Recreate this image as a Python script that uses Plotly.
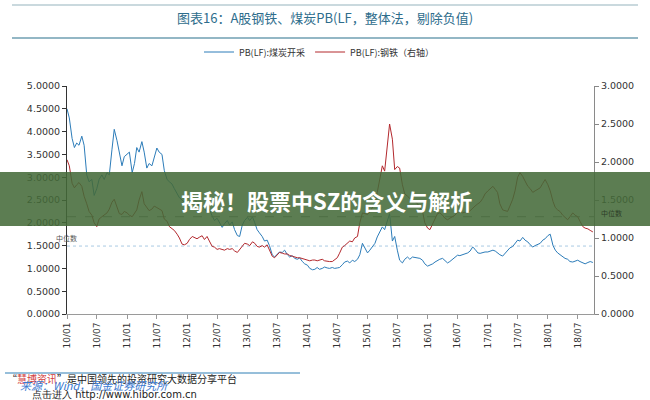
import plotly.graph_objects as go

# ---------------- data (semi-monthly readings, 2010-01-01 .. 2018-10-01) ----------------
coal_2010 = [4.50,4.30,3.85,3.65,3.75,3.70,3.90,3.70,3.05,2.90,2.95,2.60,2.75,2.95,3.05,2.95,3.10,3.05,3.60,4.05,3.80,3.55,3.25,3.45]
coal_2011 = [3.50,3.55,3.10,3.30,3.65,3.55,3.78,3.55,3.20,3.30,3.25,3.45,3.64,3.55,3.50,3.15,2.95,2.90,2.85,2.75,2.65,2.55,2.50,2.45]
coal_2012 = [2.40,2.35,2.45,2.50,2.45,2.35,2.40,2.30,2.25,2.30,2.15,2.05,2.10,2.00,1.90,1.98,2.05,1.95,2.02,1.85,1.72,1.70,1.95,2.05]
coal_2013 = [2.12,2.05,2.13,2.00,1.85,1.78,1.70,1.60,1.62,1.50,1.30,1.25,1.30,1.36,1.35,1.40,1.30,1.25,1.28,1.22,1.20,1.23,1.15,1.10]
coal_2014 = [1.07,1.00,0.97,0.98,1.02,0.98,1.00,1.03,1.01,1.00,1.02,1.00,1.01,1.02,1.08,1.14,1.16,1.12,1.18,1.15,1.20,1.30,1.55,1.45]
coal_2015 = [1.34,1.40,1.47,1.55,1.69,1.80,1.91,1.85,2.05,2.20,1.60,1.70,1.40,1.18,1.12,1.20,1.25,1.20,1.25,1.24,1.23,1.22,1.18,1.10]
coal_2016 = [1.05,1.07,1.10,1.14,1.18,1.20,1.22,1.18,1.12,1.15,1.20,1.25,1.29,1.28,1.30,1.33,1.34,1.38,1.47,1.42,1.34,1.33,1.35,1.36]
coal_2017 = [1.36,1.38,1.40,1.38,1.33,1.30,1.27,1.32,1.40,1.45,1.48,1.55,1.62,1.60,1.68,1.62,1.58,1.52,1.47,1.50,1.52,1.55,1.62,1.65]
coal_2018 = [1.72,1.75,1.50,1.40,1.34,1.30,1.25,1.22,1.20,1.15,1.14,1.16,1.18,1.15,1.12,1.10,1.13,1.15,1.13]

steel_2010 = [2.03,1.95,1.72,1.66,1.70,1.73,1.68,1.55,1.45,1.35,1.30,1.20,1.15,1.25,1.28,1.30,1.33,1.38,1.47,1.51,1.40,1.32,1.31,1.35]
steel_2011 = [1.33,1.30,1.28,1.32,1.37,1.50,1.61,1.45,1.40,1.36,1.38,1.42,1.40,1.38,1.36,1.25,1.22,1.15,1.12,1.10,1.05,1.00,0.92,0.91]
steel_2012 = [0.93,0.98,1.02,1.00,0.99,1.01,1.03,0.98,1.02,0.96,0.89,0.88,0.85,0.86,0.85,0.84,0.86,0.85,0.86,0.83,0.81,0.85,0.89,0.93]
steel_2013 = [0.92,0.90,0.95,0.93,0.89,0.88,0.90,0.88,0.91,0.85,0.76,0.74,0.78,0.81,0.80,0.79,0.79,0.77,0.76,0.75,0.74,0.74,0.73,0.72]
steel_2014 = [0.71,0.70,0.71,0.71,0.70,0.71,0.72,0.70,0.69,0.69,0.69,0.71,0.74,0.80,0.88,0.90,0.93,0.96,0.95,1.00,1.02,1.20,1.33,1.32]
steel_2015 = [1.31,1.35,1.40,1.45,1.60,1.75,1.95,1.88,2.20,2.50,2.30,1.90,1.94,1.92,1.70,1.58,1.55,1.52,1.51,1.48,1.45,1.40,1.35,1.20]
steel_2016 = [1.13,1.11,1.18,1.25,1.32,1.33,1.30,1.26,1.24,1.26,1.28,1.30,1.34,1.35,1.33,1.34,1.33,1.36,1.40,1.42,1.45,1.47,1.52,1.58]
steel_2017 = [1.62,1.65,1.68,1.64,1.60,1.45,1.37,1.36,1.35,1.42,1.51,1.62,1.80,1.86,1.81,1.75,1.68,1.65,1.60,1.62,1.64,1.66,1.72,1.77]
steel_2018 = [1.70,1.62,1.48,1.40,1.37,1.35,1.30,1.27,1.24,1.28,1.33,1.30,1.28,1.22,1.15,1.13,1.12,1.10,1.08]

coal_median = 1.49    # left axis
steel_median = 1.28   # right axis

tick_labels = ["10/01","10/07","11/01","11/07","12/01","12/07","13/01","13/07","14/01",
               "14/07","15/01","15/07","16/01","16/07","17/01","17/07","18/01","18/07"]
tick_dates = ["20%s-%s-01" % (t[:2], t[3:]) for t in tick_labels]

dates = []
for yr in range(2010, 2019):
    for mo in range(1, 13):
        for d in (1, 15):
            dates.append("%d-%02d-%02d" % (yr, mo, d))
dates = dates[:dates.index("2018-10-01") + 1]

coal = coal_2010 + coal_2011 + coal_2012 + coal_2013 + coal_2014 + coal_2015 + coal_2016 + coal_2017 + coal_2018
steel = steel_2010 + steel_2011 + steel_2012 + steel_2013 + steel_2014 + steel_2015 + steel_2016 + steel_2017 + steel_2018

x_start, x_end = "2010-01-01", "2018-10-08"

# ---------------- figure ----------------
W, H = 650, 400
L, R, T, B = 67, 594, 86, 314     # plot-area pixel box
def px(X): return (X - L) / (R - L)
def py(Y): return (B - Y) / (B - T)

BLUE = "#2c7cb9"
RED = "#b3282d"
FONT = "DejaVu Sans"
CJK = "Noto Sans CJK SC"

fig = go.Figure()
fig.add_trace(go.Scatter(x=[x_start, x_end], y=[coal_median, coal_median], mode="lines",
                         line=dict(color="#a9cbe3", width=1, dash="dot"), showlegend=False, hoverinfo="skip"))
fig.add_trace(go.Scatter(x=[x_start, x_end], y=[steel_median, steel_median], mode="lines", yaxis="y2",
                         line=dict(color="#8a8a8a", width=1, dash="dash"), showlegend=False, hoverinfo="skip"))
fig.add_trace(go.Scatter(x=dates, y=coal, mode="lines", name="PB(LF):煤炭开采",
                         line=dict(color=BLUE, width=1)))
fig.add_trace(go.Scatter(x=dates, y=steel, mode="lines", name="PB(LF):钢铁（右轴）", yaxis="y2",
                         line=dict(color=RED, width=1)))

fig.update_layout(
    width=W, height=H,
    margin=dict(l=L, r=W - R, t=T, b=H - B, autoexpand=False),
    paper_bgcolor="white", plot_bgcolor="white",
    font=dict(family=FONT, size=9, color="#222"),
    xaxis=dict(type="date", range=[x_start, x_end], tickvals=tick_dates, ticktext=tick_labels,
               tickangle=-90, ticks="outside", ticklen=4, tickcolor="#999",
               showline=True, linecolor="#9a9a9a", linewidth=1, showgrid=False, zeroline=False,
               tickfont=dict(family=FONT, size=9, color="#333")),
    yaxis=dict(range=[0, 5], dtick=0.5, tick0=0, tickformat=".4f", ticks="outside", ticklen=4,
               tickcolor="#333", showline=True, linecolor="#333", linewidth=1,
               showgrid=False, zeroline=False, tickfont=dict(family=FONT, size=9.5, color="#333")),
    yaxis2=dict(range=[0, 3], dtick=0.5, tick0=0, tickformat=".4f", ticks="outside", ticklen=4,
                tickcolor="#888", showline=True, linecolor="#8a8a8a", linewidth=1,
                overlaying="y", side="right", showgrid=False, zeroline=False,
                tickfont=dict(family=FONT, size=9.5, color="#333")),
    legend=dict(orientation="h", x=px(199), xanchor="left", y=py(52), yanchor="middle",
                font=dict(family=CJK, size=9, color="#333"), itemwidth=30,
                bgcolor="rgba(0,0,0,0)", traceorder="normal"),
    showlegend=True,
)

shapes = [
    dict(type="line", xref="paper", yref="paper", x0=px(12), x1=px(638), y0=py(5), y1=py(5),
         line=dict(color="#b9ccd3", width=1.5)),
    dict(type="line", xref="paper", yref="paper", x0=px(12), x1=px(638), y0=py(38), y1=py(38),
         line=dict(color="#6f9fb2", width=1.5)),
    dict(type="line", xref="paper", yref="paper", x0=px(5), x1=px(300), y0=py(373), y1=py(373),
         line=dict(color="#2f7fb5", width=1)),
    dict(type="rect", xref="paper", yref="paper", x0=px(0), x1=px(650), y0=py(226), y1=py(172),
         fillcolor="rgba(68,106,56,0.87)", line=dict(width=0), layer="above"),
]
fig.update_layout(shapes=shapes)

ann = [
    dict(text="图表16：A股钢铁、煤炭PB(LF，整体法，剔除负值)", x=px(325), y=py(18),
         font=dict(family=CJK, size=13, color="#2e6d8c")),
    dict(text="中位数", x=px(66), y=py(238), font=dict(family=CJK, size=7, color="#555")),
    dict(text="中位数", x=px(611), y=py(213), font=dict(family=CJK, size=7, color="#2d3d28")),
    dict(text="<b>揭秘！股票中SZ的含义与解析</b>", x=px(326), y=py(200),
         font=dict(family=CJK, size=22, color="white")),
    dict(text='“<span style="color:#d23c3c">慧博资讯</span>”是中国领先的投资研究大数据分享平台',
         x=px(5), y=py(378), xanchor="left", font=dict(family=CJK, size=10, color="#222")),
    dict(text="<i>来源：Wind，国金证券研究所</i>", x=px(18), y=py(385), xanchor="left",
         font=dict(family=CJK, size=11, color="#3a78d0")),
    dict(text="点击进入 http://www.hibor.com.cn", x=px(30), y=py(394), xanchor="left",
         font=dict(family=FONT, size=10, color="#222")),
]
for a in ann:
    a.setdefault("xanchor", "center")
    fig.add_annotation(xref="paper", yref="paper", showarrow=False, yanchor="middle", **a)

fig.write_html("out.html")
